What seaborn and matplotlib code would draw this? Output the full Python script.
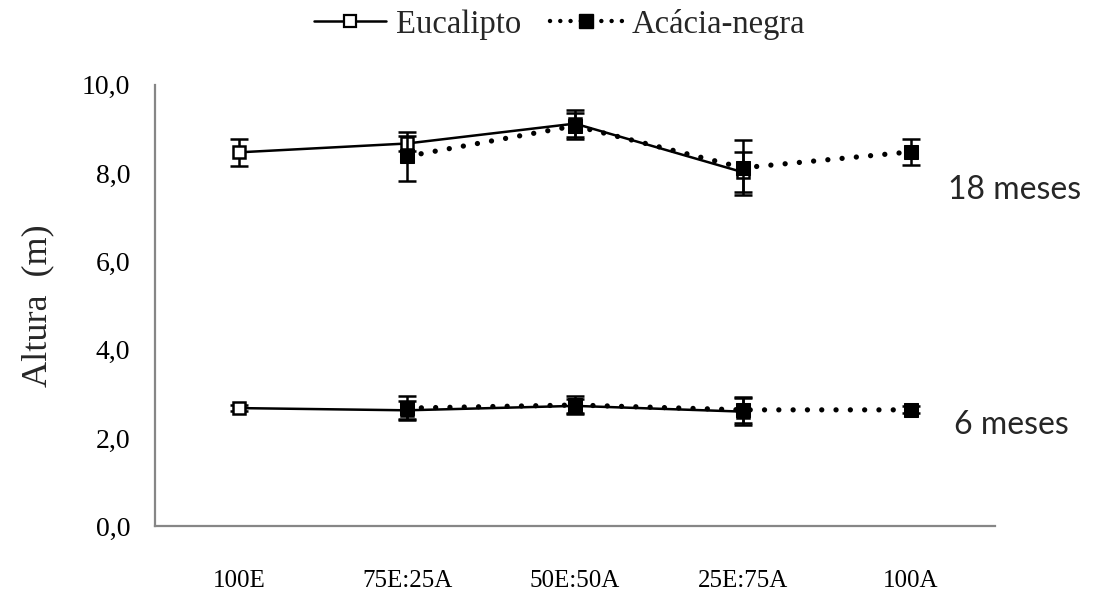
import numpy as np
import pandas as pd
import matplotlib
matplotlib.use("Agg")
import matplotlib.pyplot as plt
from matplotlib.lines import Line2D
from matplotlib.ticker import FixedLocator, FixedFormatter
import seaborn as sns

# Tratamentos (proporção eucalipto:acácia)
categorias = ["100E", "75E:25A", "50E:50A", "25E:75A", "100A"]

# Altura média (m) e desvio aos 18 meses
euc_18 = [8.47, 8.67, 9.12, 8.02, np.nan]
euc_18_err = [0.3, 0.17, 0.3, 0.45, np.nan]
aca_18 = [np.nan, 8.38, 9.07, 8.12, 8.48]
aca_18_err = [np.nan, 0.55, 0.3, 0.62, 0.3]

# Altura média (m) e desvio aos 6 meses
euc_6 = [2.68, 2.63, 2.73, 2.6, np.nan]
euc_6_err = [0.06, 0.2, 0.15, 0.3, np.nan]
aca_6 = [np.nan, 2.68, 2.75, 2.64, 2.64]
aca_6_err = [np.nan, 0.28, 0.2, 0.3, 0.08]

yticks = [0, 2, 4, 6, 8, 10]
ytick_labels = ["0,0", "2,0", "4,0", "6,0", "8,0", "10,0"]

sns.set_style("white")
serif = ["Liberation Serif", "DejaVu Serif"]
sans = ["Lato", "DejaVu Sans"]
plt.rcParams["font.family"] = serif

fig = plt.figure(figsize=(10.93, 6.01), dpi=100)
ax = fig.add_axes([0.142, 0.124, 0.768, 0.735])

pos = np.arange(len(categorias))
axis_grey = "#868686"

def serie(vals, errs, idade):
    df = pd.DataFrame({"pos": pos, "altura": vals, "erro": errs, "idade": idade})
    return df.dropna()

euc_series = [serie(euc_18, euc_18_err, "18"), serie(euc_6, euc_6_err, "6")]
aca_series = [serie(aca_18, aca_18_err, "18"), serie(aca_6, aca_6_err, "6")]

dotted = (0, (0.01, 2.7))

# Eucalipto: linha contínua, quadrado vazado
for df in euc_series:
    ax.errorbar(df["pos"], df["altura"], yerr=df["erro"], fmt="none",
                ecolor="black", elinewidth=1.8, capsize=6.5, capthick=1.8, zorder=2)
    sns.lineplot(data=df, x="pos", y="altura", ax=ax, color="black",
                 linewidth=1.8, marker="s", markersize=9,
                 markerfacecolor="white", markeredgecolor="black",
                 markeredgewidth=1.8, zorder=3, legend=False)

# Acácia-negra: linha pontilhada, quadrado cheio
for df in aca_series:
    ax.errorbar(df["pos"], df["altura"], yerr=df["erro"], fmt="none",
                ecolor="black", elinewidth=1.8, capsize=6.5, capthick=1.8, zorder=4)
    sns.lineplot(data=df, x="pos", y="altura", ax=ax, color="black",
                 linewidth=3.8, linestyle=dotted, dash_capstyle="round",
                 marker="s", markersize=10.5, markerfacecolor="black",
                 markeredgecolor="black", zorder=5, legend=False)

ax.set_xlim(-0.5, 4.5)
ax.set_ylim(0, 10)

for side in ["top", "right"]:
    ax.spines[side].set_visible(False)
for side in ["left", "bottom"]:
    ax.spines[side].set_color(axis_grey)
    ax.spines[side].set_linewidth(1.6)

ax.xaxis.set_major_locator(FixedLocator(pos))
ax.xaxis.set_major_formatter(FixedFormatter(categorias))
ax.xaxis.set_minor_locator(FixedLocator([4.5]))
ax.yaxis.set_major_locator(FixedLocator(yticks))
ax.yaxis.set_major_formatter(FixedFormatter(ytick_labels))

ax.tick_params(axis="both", which="both", direction="out", length=6,
               width=1.5, color=axis_grey, labelcolor="black")
ax.tick_params(axis="x", which="major", pad=25, labelsize=18)
ax.tick_params(axis="y", which="major", pad=12, labelsize=20)

ax.set_xlabel("")
ax.set_ylabel("Altura  (m)", fontsize=26, labelpad=20)

# Rótulos das idades
fig.text(0.867, 0.684, "18 meses", fontsize=23, family=sans,
         ha="left", va="center")
fig.text(0.873, 0.293, "6 meses", fontsize=23, family=sans,
         ha="left", va="center")

handles = [
    Line2D([], [], color="black", linewidth=1.8, marker="s", markersize=9,
           markerfacecolor="white", markeredgecolor="black", markeredgewidth=1.6),
    Line2D([], [], color="black", linewidth=3.2, linestyle=(0, (0.01, 2.3)),
           dash_capstyle="round", marker="s", markersize=10,
           markerfacecolor="black", markeredgecolor="black"),
]
fig.legend(handles, ["Eucalipto", "Acácia-negra"], loc="center",
           bbox_to_anchor=(0.512, 0.96), ncol=2, frameon=False,
           fontsize=23.5, handlelength=2.2, handletextpad=0.3,
           columnspacing=0.9)

fig.savefig("out.png", dpi=100)
